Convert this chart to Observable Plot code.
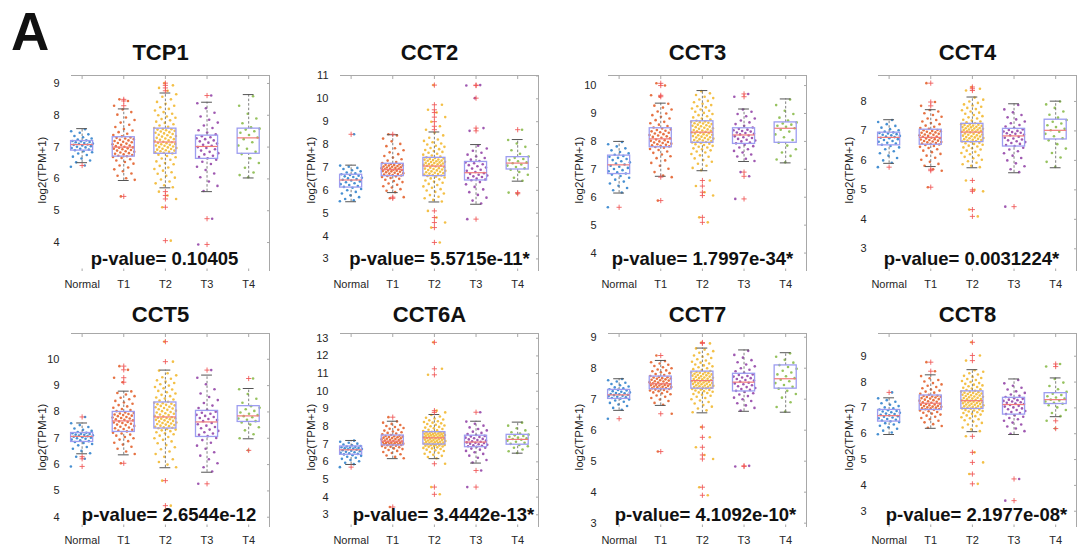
<!DOCTYPE html>
<html>
<head>
<meta charset="utf-8">
<script src="https://cdn.jsdelivr.net/npm/d3@7"></script>
<script src="https://cdn.jsdelivr.net/npm/@observablehq/plot@0.6"></script>
<style>
  html, body { margin: 0; padding: 0; background: #fff; }
  #fig { position: relative; width: 1083px; height: 547px; overflow: hidden; background: #fff;
         font-family: "Liberation Sans", Arial, Helvetica, sans-serif; }
  .panel { position: absolute; }
  .overlay { position: absolute; left: 0; top: 0; pointer-events: none; }
</style>
</head>
<body>
<div id="fig"></div>
<script>
// ---------------- data ----------------
const groups = ["Normal", "T1", "T2", "T3", "T4"];
const genes = ["TCP1", "CCT2", "CCT3", "CCT4", "CCT5", "CCT6A", "CCT7", "CCT8"];
const pValues = ["p-value= 0.10405", "p-value= 5.5715e-11*", "p-value= 1.7997e-34*", "p-value= 0.0031224*",
                 "p-value= 2.6544e-12", "p-value= 3.4442e-13*", "p-value= 4.1092e-10*", "p-value= 2.1977e-08*"];
const yLabel = "log2(TPM+1)";
const panelLetter = "A";

// box statistics per group: [lower whisker, Q1, median, Q3, upper whisker]
const TCP1_box = [[6.51,6.89,7.08,7.19,7.58],[5.95,6.70,7.00,7.31,8.20],[5.72,6.79,7.16,7.58,8.70],[5.60,6.63,7.02,7.36,8.41],[6.03,6.79,7.29,7.58,8.65]];
const CCT2_box = [[5.50,6.12,6.45,6.68,7.10],[5.90,6.62,6.91,7.16,8.43],[5.49,6.62,7.06,7.42,8.55],[5.39,6.43,6.77,7.24,8.00],[6.40,6.91,7.19,7.45,8.22]];
const CCT3_box = [[6.15,6.83,7.16,7.49,8.00],[6.75,7.79,8.09,8.47,9.37],[6.95,7.95,8.33,8.72,9.82],[7.28,7.91,8.23,8.47,9.16],[7.23,7.95,8.47,8.68,9.52]];
const CCT4_box = [[5.90,6.51,6.78,6.94,7.38],[5.79,6.53,6.78,7.04,7.72],[5.75,6.62,6.96,7.24,8.15],[5.58,6.47,6.83,7.07,7.92],[5.75,6.71,7.02,7.38,8.01]];
const CCT5_box = [[6.41,6.86,7.07,7.20,7.58],[6.37,7.24,7.66,8.00,8.79],[5.88,7.37,7.81,8.36,9.59],[5.71,7.05,7.62,8.04,9.40],[6.98,7.62,7.85,8.22,8.89]];
const CCT6A_box = [[5.85,6.40,6.68,6.87,7.21],[6.18,6.93,7.17,7.49,8.30],[6.18,6.98,7.36,7.68,8.68],[5.93,6.83,7.12,7.48,8.30],[6.49,6.97,7.27,7.53,8.25]];
const CCT7_box = [[6.64,7.01,7.14,7.30,7.66],[6.80,7.32,7.50,7.73,8.25],[6.56,7.34,7.60,7.89,8.65],[6.61,7.25,7.55,7.82,8.59],[6.58,7.34,7.66,8.09,8.50]];
const CCT8_box = [[5.97,6.47,6.70,6.92,7.39],[6.21,6.92,7.18,7.48,8.28],[6.08,6.96,7.28,7.64,8.48],[5.97,6.74,7.13,7.39,8.12],[6.66,7.15,7.32,7.57,8.16]];

// outliers per group
const TCP1_out = [[6.42],[8.50,8.45,8.30,5.45],[9.01,8.94,8.86,8.77,5.60,5.48,5.37,5.11,4.06],[8.62,4.75,3.94],[]];
const CCT2_out = [[8.45],[8.45,5.70,5.65],[10.60,9.74,9.52,9.40,9.20,9.00,8.80,8.65,5.10,4.81,4.59,4.37,3.72],[10.60,10.58,10.03,8.72,8.60,4.74],[8.65,5.90,5.85]];
const CCT3_out = [[5.64],[10.08,10.00,9.65,9.60,6.72,5.88],[6.60,6.40,6.18,6.06,5.28,5.10],[9.70,9.60,6.90,6.75,5.94],[]];
const CCT4_out = [[5.77],[8.62,7.98,7.85,5.70,5.65,5.09],[8.49,8.43,8.37,5.32,5.00,4.95,4.33,4.10],[4.43],[]];
const CCT5_out = [[7.81,6.30,6.22,5.93],[9.74,9.60,9.30,9.13,6.05],[10.67,9.91,5.39,4.44],[9.59,5.27],[9.27,6.54]];
const CCT6A_out = [[5.70],[8.53,3.44],[12.77,11.27,10.93,8.90,8.80,5.89,4.57,4.16],[8.81,5.51,4.57],[]];
const CCT7_out = [[6.37],[8.41,6.53,5.31],[8.83,8.80,6.10,5.77,5.45,5.20,5.07,4.16,3.90],[4.83,4.85],[]];
const CCT8_out = [[7.60],[8.77,8.42],[9.54,9.03,8.83,5.90,5.28,4.89,4.44,4.06],[4.25,3.41],[8.70,8.60,6.50,6.20]];

// sample values per group (estimated from the scatter clouds)
const TCP1_pts = [
  [6.38,6.42,6.52,6.58,6.64,6.7,6.75,6.8,6.84,6.87,6.9,6.92,6.95,6.97,6.99,7.01,7.03,7.05,7.07,7.08,7.1,7.11,7.13,7.15,7.16,7.18,7.19,7.21,7.24,7.27,7.31,7.35,7.4,7.45,7.5,7.56],
  [5.45,5.97,6.02,6.1,6.17,6.24,6.3,6.36,6.42,6.48,6.53,6.58,6.62,6.66,6.69,6.71,6.73,6.75,6.77,6.79,6.81,6.83,6.85,6.87,6.89,6.91,6.93,6.95,6.96,6.98,6.99,7.01,7.03,7.05,7.07,7.09,7.11,7.13,7.15,7.17,7.19,7.21,7.23,7.25,7.27,7.29,7.3,7.34,7.38,7.42,7.47,7.52,7.57,7.63,7.7,7.77,7.85,7.93,8.02,8.1,8.18,8.3,8.45,8.5],
  [4.06,5.11,5.37,5.48,5.6,5.74,5.8,5.86,5.92,5.98,6.04,6.1,6.16,6.21,6.26,6.31,6.36,6.41,6.46,6.5,6.55,6.6,6.64,6.68,6.72,6.76,6.8,6.82,6.84,6.85,6.87,6.89,6.9,6.92,6.94,6.95,6.97,6.99,7.0,7.02,7.04,7.05,7.07,7.09,7.1,7.12,7.13,7.15,7.17,7.19,7.21,7.23,7.25,7.27,7.29,7.31,7.33,7.35,7.37,7.39,7.41,7.43,7.45,7.47,7.49,7.51,7.53,7.55,7.56,7.57,7.6,7.64,7.68,7.72,7.76,7.8,7.84,7.88,7.92,7.96,8.0,8.05,8.1,8.15,8.2,8.25,8.3,8.36,8.42,8.5,8.58,8.66,8.77,8.86,8.94,9.01],
  [3.94,4.75,5.62,5.78,5.92,6.05,6.17,6.28,6.38,6.47,6.54,6.6,6.65,6.69,6.73,6.77,6.81,6.85,6.89,6.93,6.97,7.0,7.04,7.07,7.11,7.14,7.18,7.21,7.25,7.28,7.31,7.34,7.4,7.46,7.53,7.6,7.68,7.77,7.86,7.96,8.08,8.22,8.38,8.62],
  [6.05,6.12,6.2,6.35,6.5,6.65,6.78,6.85,6.95,7.05,7.15,7.25,7.3,7.38,7.45,7.5,7.55,7.58,7.62,7.75,7.9,8.05,8.3,8.6]
];
const CCT2_pts = [
  [5.52,5.56,5.62,5.7,5.78,5.86,5.93,6.0,6.06,6.11,6.15,6.19,6.23,6.27,6.31,6.35,6.39,6.43,6.46,6.49,6.52,6.55,6.58,6.61,6.64,6.67,6.7,6.74,6.78,6.83,6.88,6.93,6.98,7.03,7.08,8.45],
  [5.65,5.7,5.92,5.98,6.05,6.12,6.18,6.24,6.3,6.36,6.41,6.46,6.5,6.54,6.58,6.61,6.63,6.65,6.67,6.69,6.71,6.73,6.75,6.77,6.79,6.81,6.83,6.84,6.86,6.87,6.89,6.9,6.92,6.94,6.95,6.97,6.98,7.0,7.01,7.03,7.04,7.06,7.08,7.09,7.11,7.12,7.14,7.15,7.19,7.24,7.3,7.36,7.43,7.5,7.58,7.66,7.75,7.84,7.93,8.03,8.14,8.26,8.4,8.45],
  [3.72,4.37,4.59,4.81,5.1,5.51,5.58,5.65,5.72,5.79,5.86,5.93,5.99,6.05,6.11,6.17,6.23,6.28,6.33,6.38,6.43,6.48,6.52,6.56,6.6,6.63,6.65,6.67,6.69,6.71,6.73,6.75,6.77,6.79,6.81,6.83,6.85,6.87,6.89,6.91,6.93,6.95,6.97,6.99,7.01,7.04,7.07,7.09,7.1,7.12,7.14,7.15,7.17,7.19,7.2,7.22,7.24,7.25,7.27,7.29,7.3,7.32,7.34,7.35,7.37,7.39,7.41,7.44,7.48,7.52,7.56,7.6,7.64,7.68,7.72,7.76,7.8,7.85,7.9,7.95,8.0,8.05,8.1,8.16,8.22,8.3,8.4,8.52,8.65,8.8,9.0,9.2,9.4,9.52,9.74,10.6],
  [4.74,5.42,5.55,5.68,5.8,5.92,6.04,6.15,6.26,6.36,6.44,6.47,6.51,6.54,6.58,6.61,6.65,6.68,6.72,6.75,6.8,6.85,6.9,6.95,7.0,7.05,7.1,7.14,7.18,7.22,7.28,7.34,7.41,7.48,7.56,7.64,7.73,7.83,7.95,8.6,8.72,10.03,10.58,10.6],
  [5.85,5.9,6.42,6.55,6.68,6.8,6.9,6.96,7.02,7.08,7.13,7.18,7.22,7.27,7.32,7.37,7.42,7.48,7.6,7.75,7.9,8.05,8.2,8.65]
];
const CCT3_pts = [
  [5.64,6.17,6.25,6.33,6.41,6.49,6.56,6.63,6.7,6.76,6.81,6.85,6.89,6.93,6.97,7.01,7.05,7.09,7.13,7.17,7.21,7.25,7.29,7.33,7.37,7.41,7.45,7.48,7.52,7.57,7.62,7.68,7.75,7.82,7.9,7.98],
  [5.88,6.72,6.78,6.9,7.02,7.13,7.23,7.32,7.4,7.47,7.53,7.59,7.64,7.69,7.73,7.77,7.8,7.82,7.84,7.86,7.88,7.9,7.92,7.94,7.96,7.98,8.0,8.02,8.04,8.07,8.11,8.13,8.16,8.18,8.21,8.23,8.26,8.28,8.31,8.33,8.36,8.38,8.41,8.43,8.46,8.5,8.55,8.6,8.65,8.7,8.76,8.82,8.88,8.94,9.0,9.07,9.14,9.21,9.28,9.35,9.6,9.65,10.0,10.08],
  [5.1,5.28,6.06,6.18,6.4,6.6,6.97,7.05,7.13,7.2,7.27,7.33,7.39,7.45,7.5,7.55,7.6,7.64,7.68,7.72,7.75,7.78,7.81,7.84,7.87,7.9,7.92,7.94,7.96,7.98,8.0,8.01,8.03,8.05,8.07,8.08,8.1,8.12,8.14,8.15,8.17,8.19,8.21,8.22,8.24,8.26,8.28,8.29,8.31,8.32,8.34,8.36,8.38,8.39,8.41,8.43,8.45,8.47,8.49,8.51,8.53,8.54,8.56,8.58,8.6,8.62,8.64,8.65,8.67,8.69,8.7,8.71,8.74,8.78,8.82,8.86,8.9,8.94,8.98,9.02,9.06,9.1,9.14,9.18,9.22,9.26,9.3,9.35,9.4,9.45,9.5,9.55,9.6,9.66,9.72,9.8],
  [5.94,6.75,6.9,7.3,7.38,7.46,7.53,7.6,7.66,7.72,7.78,7.83,7.88,7.93,7.96,8.0,8.03,8.06,8.09,8.12,8.15,8.18,8.21,8.25,8.27,8.3,8.32,8.35,8.37,8.4,8.42,8.45,8.5,8.56,8.62,8.68,8.75,8.82,8.9,8.98,9.06,9.14,9.6,9.7],
  [7.25,7.35,7.48,7.6,7.72,7.85,7.95,8.05,8.15,8.25,8.35,8.42,8.47,8.52,8.56,8.6,8.64,8.68,8.75,8.85,8.98,9.1,9.3,9.5]
];
const CCT4_pts = [
  [5.77,5.92,6.0,6.08,6.16,6.24,6.31,6.38,6.44,6.49,6.53,6.57,6.6,6.63,6.66,6.69,6.72,6.75,6.77,6.79,6.81,6.83,6.85,6.87,6.89,6.91,6.93,6.95,6.98,7.02,7.06,7.11,7.17,7.23,7.3,7.37],
  [5.09,5.65,5.7,5.82,5.88,5.95,6.02,6.09,6.16,6.22,6.28,6.33,6.38,6.42,6.46,6.49,6.52,6.54,6.56,6.57,6.59,6.61,6.62,6.64,6.66,6.67,6.69,6.71,6.72,6.74,6.75,6.77,6.8,6.81,6.83,6.85,6.87,6.88,6.9,6.92,6.94,6.95,6.97,6.99,7.0,7.02,7.03,7.07,7.1,7.14,7.18,7.23,7.27,7.32,7.37,7.42,7.48,7.54,7.6,7.66,7.71,7.85,7.98,8.62],
  [4.1,4.33,4.95,5.0,5.32,5.77,5.82,5.87,5.92,5.97,6.02,6.07,6.12,6.17,6.21,6.25,6.29,6.33,6.37,6.41,6.44,6.47,6.5,6.53,6.56,6.58,6.6,6.63,6.64,6.66,6.67,6.69,6.7,6.72,6.73,6.75,6.76,6.78,6.79,6.81,6.82,6.84,6.85,6.87,6.88,6.9,6.91,6.93,6.95,6.97,6.98,6.99,7.0,7.02,7.03,7.04,7.05,7.07,7.08,7.09,7.1,7.12,7.13,7.14,7.16,7.17,7.18,7.2,7.21,7.22,7.23,7.26,7.29,7.32,7.35,7.38,7.42,7.46,7.5,7.54,7.58,7.62,7.66,7.7,7.74,7.78,7.82,7.86,7.9,7.95,8.0,8.06,8.13,8.37,8.43,8.49],
  [4.43,5.6,5.7,5.8,5.9,6.0,6.08,6.16,6.24,6.31,6.37,6.43,6.49,6.52,6.56,6.59,6.62,6.65,6.68,6.71,6.74,6.77,6.8,6.85,6.87,6.9,6.92,6.94,6.96,6.98,7.0,7.03,7.05,7.1,7.15,7.2,7.26,7.32,7.39,7.46,7.54,7.63,7.73,7.88],
  [5.78,5.95,6.1,6.25,6.4,6.55,6.68,6.75,6.82,6.9,6.97,7.02,7.07,7.13,7.19,7.25,7.31,7.37,7.45,7.55,7.66,7.78,7.9,8.0]
];
const CCT5_pts = [
  [5.93,6.22,6.3,6.43,6.52,6.6,6.67,6.73,6.78,6.82,6.86,6.89,6.92,6.95,6.98,7.0,7.02,7.04,7.06,7.08,7.1,7.11,7.13,7.14,7.16,7.17,7.19,7.21,7.24,7.28,7.32,7.37,7.43,7.5,7.57,7.81],
  [6.05,6.4,6.5,6.6,6.68,6.76,6.83,6.89,6.95,7.0,7.05,7.1,7.14,7.18,7.21,7.26,7.29,7.32,7.35,7.38,7.41,7.44,7.47,7.5,7.52,7.55,7.58,7.6,7.62,7.64,7.68,7.7,7.72,7.75,7.77,7.79,7.81,7.84,7.86,7.88,7.9,7.92,7.94,7.96,7.98,8.03,8.07,8.11,8.16,8.21,8.26,8.31,8.36,8.42,8.48,8.54,8.6,8.66,8.72,8.78,9.13,9.3,9.6,9.74],
  [4.44,5.39,5.9,6.0,6.1,6.2,6.3,6.4,6.5,6.58,6.66,6.74,6.81,6.88,6.94,7.0,7.05,7.1,7.15,7.19,7.23,7.27,7.3,7.33,7.35,7.38,7.4,7.42,7.44,7.46,7.48,7.5,7.52,7.54,7.56,7.58,7.6,7.62,7.64,7.66,7.68,7.7,7.72,7.74,7.76,7.77,7.78,7.8,7.83,7.85,7.88,7.9,7.93,7.95,7.98,8.0,8.03,8.05,8.08,8.1,8.13,8.15,8.18,8.2,8.23,8.25,8.27,8.29,8.31,8.33,8.35,8.39,8.43,8.47,8.51,8.55,8.6,8.65,8.7,8.75,8.8,8.85,8.9,8.95,9.0,9.05,9.1,9.15,9.2,9.26,9.32,9.39,9.47,9.57,9.91,10.67],
  [5.27,5.74,5.9,6.05,6.2,6.34,6.47,6.6,6.72,6.83,6.93,7.01,7.08,7.13,7.18,7.23,7.28,7.33,7.38,7.43,7.48,7.53,7.58,7.65,7.69,7.73,7.77,7.81,7.85,7.89,7.93,7.97,8.01,8.08,8.15,8.24,8.34,8.45,8.57,8.7,8.86,9.05,9.3,9.59],
  [6.54,7.0,7.15,7.3,7.42,7.52,7.6,7.65,7.7,7.75,7.8,7.84,7.88,7.93,7.98,8.04,8.1,8.16,8.22,8.35,8.5,8.68,8.86,9.27]
];
const CCT6A_pts = [
  [5.7,5.87,5.95,6.03,6.1,6.17,6.23,6.29,6.34,6.38,6.42,6.45,6.48,6.51,6.54,6.57,6.6,6.63,6.66,6.69,6.71,6.73,6.75,6.77,6.79,6.81,6.83,6.85,6.87,6.9,6.94,6.98,7.03,7.08,7.14,7.2],
  [3.44,6.2,6.28,6.36,6.43,6.5,6.56,6.62,6.67,6.72,6.76,6.8,6.83,6.86,6.89,6.91,6.94,6.96,6.97,6.99,7.0,7.02,7.03,7.05,7.06,7.08,7.09,7.11,7.12,7.14,7.15,7.19,7.21,7.23,7.25,7.27,7.29,7.31,7.33,7.35,7.37,7.39,7.41,7.43,7.45,7.46,7.48,7.52,7.56,7.6,7.64,7.68,7.72,7.77,7.82,7.87,7.92,7.97,8.03,8.09,8.15,8.22,8.29,8.53],
  [4.16,4.57,5.89,6.2,6.27,6.34,6.4,6.46,6.51,6.56,6.61,6.65,6.69,6.73,6.76,6.79,6.82,6.85,6.87,6.89,6.91,6.93,6.94,6.96,6.97,6.99,7.01,7.02,7.04,7.06,7.08,7.09,7.11,7.13,7.14,7.16,7.18,7.19,7.21,7.23,7.24,7.26,7.28,7.3,7.31,7.33,7.35,7.37,7.38,7.4,7.41,7.43,7.44,7.46,7.47,7.49,7.5,7.52,7.53,7.55,7.56,7.58,7.59,7.61,7.62,7.64,7.65,7.66,7.67,7.7,7.74,7.78,7.82,7.86,7.9,7.94,7.98,8.02,8.06,8.1,8.14,8.18,8.22,8.26,8.3,8.35,8.4,8.45,8.5,8.57,8.65,8.8,8.9,10.93,11.27,12.77],
  [4.57,5.51,5.96,6.1,6.23,6.35,6.45,6.54,6.62,6.69,6.75,6.8,6.85,6.88,6.91,6.94,6.97,7.0,7.03,7.06,7.08,7.1,7.14,7.17,7.2,7.23,7.27,7.3,7.34,7.37,7.41,7.44,7.47,7.52,7.58,7.64,7.71,7.78,7.86,7.95,8.05,8.16,8.28,8.81],
  [6.5,6.6,6.7,6.8,6.88,6.95,7.02,7.08,7.14,7.2,7.25,7.29,7.33,7.37,7.42,7.46,7.5,7.54,7.6,7.68,7.78,7.9,8.05,8.22]
];
const CCT7_pts = [
  [6.37,6.66,6.72,6.78,6.83,6.88,6.92,6.96,6.99,7.02,7.04,7.06,7.08,7.1,7.11,7.13,7.14,7.16,7.17,7.19,7.2,7.22,7.24,7.26,7.28,7.3,7.32,7.35,7.38,7.41,7.45,7.49,7.53,7.57,7.61,7.65],
  [5.31,6.53,6.82,6.88,6.94,6.99,7.04,7.08,7.12,7.16,7.19,7.22,7.24,7.26,7.28,7.3,7.31,7.33,7.34,7.35,7.36,7.38,7.39,7.4,7.41,7.43,7.44,7.45,7.46,7.47,7.48,7.49,7.51,7.52,7.54,7.55,7.57,7.58,7.6,7.61,7.63,7.64,7.66,7.67,7.68,7.7,7.71,7.72,7.75,7.78,7.81,7.84,7.87,7.9,7.93,7.96,8.0,8.03,8.07,8.11,8.15,8.19,8.23,8.41],
  [3.9,4.16,5.07,5.2,5.45,5.77,6.1,6.58,6.64,6.7,6.76,6.81,6.86,6.91,6.96,7.0,7.04,7.08,7.11,7.14,7.17,7.2,7.22,7.24,7.26,7.28,7.3,7.31,7.33,7.35,7.36,7.37,7.38,7.39,7.4,7.42,7.43,7.44,7.45,7.46,7.48,7.49,7.5,7.51,7.52,7.54,7.55,7.56,7.57,7.58,7.59,7.61,7.62,7.64,7.65,7.66,7.68,7.69,7.7,7.72,7.73,7.74,7.76,7.77,7.78,7.8,7.81,7.82,7.84,7.85,7.86,7.87,7.88,7.91,7.94,7.97,8.0,8.03,8.06,8.09,8.12,8.15,8.18,8.21,8.25,8.29,8.33,8.37,8.41,8.45,8.5,8.55,8.6,8.64,8.8,8.83],
  [4.83,4.85,6.63,6.72,6.8,6.87,6.94,7.0,7.05,7.1,7.15,7.19,7.23,7.27,7.3,7.33,7.36,7.39,7.42,7.45,7.48,7.51,7.53,7.57,7.6,7.62,7.65,7.68,7.7,7.73,7.75,7.78,7.8,7.85,7.9,7.95,8.0,8.06,8.12,8.19,8.26,8.34,8.43,8.56],
  [6.6,6.75,6.9,7.05,7.17,7.27,7.34,7.4,7.46,7.52,7.58,7.63,7.68,7.74,7.8,7.86,7.92,7.98,8.04,8.1,8.18,8.27,8.37,8.48]
];
const CCT8_pts = [
  [5.98,6.05,6.12,6.19,6.25,6.31,6.36,6.41,6.45,6.48,6.51,6.54,6.57,6.6,6.63,6.66,6.68,6.71,6.73,6.76,6.78,6.81,6.83,6.86,6.88,6.91,6.94,6.98,7.02,7.07,7.12,7.18,7.24,7.3,7.37,7.6],
  [6.23,6.3,6.37,6.44,6.5,6.56,6.61,6.66,6.7,6.74,6.78,6.81,6.84,6.87,6.9,6.93,6.95,6.96,6.98,6.99,7.01,7.02,7.04,7.05,7.07,7.08,7.1,7.12,7.13,7.15,7.16,7.2,7.22,7.24,7.26,7.28,7.3,7.32,7.34,7.36,7.38,7.4,7.42,7.43,7.44,7.46,7.47,7.51,7.55,7.59,7.63,7.67,7.71,7.76,7.81,7.86,7.91,7.96,8.02,8.08,8.15,8.23,8.42,8.77],
  [4.06,4.44,4.89,5.28,5.9,6.1,6.17,6.24,6.3,6.36,6.42,6.47,6.52,6.56,6.6,6.64,6.68,6.71,6.74,6.77,6.8,6.83,6.86,6.88,6.9,6.92,6.94,6.97,6.98,7.0,7.01,7.03,7.04,7.06,7.07,7.09,7.1,7.12,7.13,7.15,7.16,7.18,7.19,7.21,7.22,7.24,7.25,7.26,7.27,7.29,7.31,7.33,7.34,7.36,7.38,7.39,7.41,7.43,7.44,7.46,7.48,7.49,7.51,7.53,7.54,7.56,7.58,7.59,7.61,7.62,7.63,7.66,7.69,7.72,7.75,7.78,7.81,7.84,7.87,7.9,7.93,7.96,8.0,8.04,8.08,8.12,8.16,8.2,8.24,8.29,8.34,8.4,8.46,8.83,9.03,9.54],
  [3.41,4.25,6.0,6.1,6.2,6.28,6.36,6.43,6.5,6.56,6.61,6.66,6.71,6.76,6.8,6.84,6.88,6.92,6.95,6.98,7.02,7.05,7.08,7.11,7.15,7.17,7.2,7.22,7.25,7.27,7.3,7.32,7.35,7.37,7.42,7.47,7.52,7.58,7.64,7.71,7.78,7.86,7.95,8.08],
  [6.2,6.5,6.68,6.8,6.92,7.02,7.1,7.16,7.2,7.25,7.29,7.32,7.36,7.4,7.45,7.5,7.55,7.62,7.72,7.85,7.98,8.12,8.6,8.7]
];

const allBoxes = [TCP1_box, CCT2_box, CCT3_box, CCT4_box, CCT5_box, CCT6A_box, CCT7_box, CCT8_box];
const allOut = [TCP1_out, CCT2_out, CCT3_out, CCT4_out, CCT5_out, CCT6A_out, CCT7_out, CCT8_out];
const allPts = [TCP1_pts, CCT2_pts, CCT3_pts, CCT4_pts, CCT5_pts, CCT6A_pts, CCT7_pts, CCT8_pts];

// ---------------- layout / style ----------------
const axisLimits = [[3.09,9.25],[2.45,11.02],[3.34,10.36],[2.23,8.88],[3.61,10.98],[2.28,13.27],[2.86,9.12],[2.37,9.88]];
const xLimits = [0.745, 5.5];
const colLeft = [71, 340, 608, 878];
const rowTop = [75, 333];
const rowH = [196, 194];
const titleBase = [60, 321.7];
const yLabelCenter = [170, 437];
const AW = 198;
const mL = 46, mR = 8, mT = 4, mB = 24;
const pDx = [-6, 0, -5, -6, -1.5, 4, -2, -1];
const groupColors = ["#1f78c8", "#e0531a", "#f0b21e", "#8a35a0", "#7fb43a"];
const FONT = '"Liberation Sans", Arial, Helvetica, sans-serif';
const AXIS_GRAY = "#a8a8a8";

const plusSymbol = {
  draw(ctx, size) {
    const r = Math.sqrt(size / Math.PI);
    ctx.moveTo(-r, 0); ctx.lineTo(r, 0);
    ctx.moveTo(0, -r); ctx.lineTo(0, r);
  }
};

const fig = document.getElementById("fig");

genes.forEach((gene, k) => {
  const col = k % 4, row = Math.floor(k / 4);
  const AH = rowH[row];
  const [lo, hi] = axisLimits[k];
  const yt = d3.range(Math.ceil(lo), Math.floor(hi) + 1);
  const boxRows = allBoxes[k].map((b, i) => ({pos: i + 1, wlo: b[0], q1: b[1], med: b[2], q3: b[3], whi: b[4]}));
  const outRows = allOut[k].flatMap((arr, i) => arr.map(v => ({pos: i + 1, v})));
  const dotMarks = allPts[k].map((arr, i) => {
    const rows = arr.map((v, j) => ({pos: i + 1, j, v}));
    return Plot.dot(rows, {
      x: d => d.pos + ((((d.j * 0.6180339887) + 0.37 * i) % 1) - 0.5) * 0.54,
      y: "v", r: 1.3, fill: groupColors[i], fillOpacity: 0.82, stroke: "none"
    });
  });
  const hw = 0.265, cw = 0.13;
  const svg = Plot.plot({
    width: mL + AW + mR, height: mT + AH + mB,
    marginLeft: mL, marginRight: mR, marginTop: mT, marginBottom: mB,
    style: {fontFamily: FONT, fontSize: "11px", color: "#262626", background: "transparent", overflow: "visible"},
    x: {domain: xLimits, label: null},
    y: {domain: [lo, hi], label: null},
    marks: [
      // box outline of the axes: top and right edges only, as in the source figure
      Plot.ruleY([hi], {stroke: AXIS_GRAY, strokeWidth: 1}),
      Plot.ruleX([xLimits[1]], {stroke: AXIS_GRAY, strokeWidth: 1}),
      Plot.axisY(yt, {anchor: "left", label: null, tickSize: 0, tickPadding: 12, tickFormat: d => d}),
      Plot.axisY(yt, {anchor: "right", label: null, tickSize: -3, tickFormat: () => "", stroke: AXIS_GRAY}),
      Plot.axisX([1,2,3,4,5], {anchor: "bottom", label: null, tickSize: -2.5, tickPadding: 11.5, stroke: AXIS_GRAY, tickFormat: d => groups[d - 1]}),
      Plot.axisX([1,2,3,4,5], {anchor: "top", label: null, tickSize: -3, tickFormat: () => "", stroke: AXIS_GRAY}),
      ...dotMarks,
      Plot.ruleX(boxRows, {x: "pos", y1: "q3", y2: "whi", stroke: "#707070", strokeDasharray: "2.5,2", strokeWidth: 0.9}),
      Plot.ruleX(boxRows, {x: "pos", y1: "wlo", y2: "q1", stroke: "#707070", strokeDasharray: "2.5,2", strokeWidth: 0.9}),
      Plot.ruleY(boxRows, {y: "whi", x1: d => d.pos - cw, x2: d => d.pos + cw, stroke: "#555", strokeWidth: 1}),
      Plot.ruleY(boxRows, {y: "wlo", x1: d => d.pos - cw, x2: d => d.pos + cw, stroke: "#555", strokeWidth: 1}),
      Plot.rect(boxRows, {x1: d => d.pos - hw, x2: d => d.pos + hw, y1: "q1", y2: "q3", fill: "none", stroke: "#9d9df0", strokeWidth: 1.3}),
      Plot.ruleY(boxRows, {y: "med", x1: d => d.pos - hw, x2: d => d.pos + hw, stroke: "#f07a7a", strokeWidth: 1.2}),
      Plot.dot(outRows, {x: "pos", y: "v", symbol: plusSymbol, r: 2.6, stroke: "#f05555", strokeWidth: 1, fill: "none", strokeOpacity: 0.85}),
      Plot.text([pValues[k]], {frameAnchor: "bottom", dx: pDx[k], dy: -7, lineAnchor: "bottom", text: d => d, fontSize: 18.5, fontWeight: "bold", fill: "#111"})
    ]
  });
  svg.classList.add("panel");
  svg.style.left = (colLeft[col] - mL) + "px";
  svg.style.top = (rowTop[row] - mT) + "px";
  fig.appendChild(svg);
});

// titles, y-axis labels and panel letter
const ov = d3.select(fig).append("svg").attr("class", "overlay").attr("width", 1083).attr("height", 547)
  .style("font-family", FONT);
ov.append("text").attr("x", 11).attr("y", 50).attr("font-size", 53).attr("font-weight", "bold").attr("fill", "#111").text(panelLetter);
genes.forEach((gene, k) => {
  const col = k % 4, row = Math.floor(k / 4);
  ov.append("text").attr("x", colLeft[col] + AW / 2 - 9.5).attr("y", titleBase[row])
    .attr("text-anchor", "middle").attr("font-size", 22).attr("font-weight", "bold").attr("fill", "#111").text(gene);
  ov.append("text")
    .attr("transform", `translate(${colLeft[col] - 25.5},${yLabelCenter[row]}) rotate(-90)`)
    .attr("text-anchor", "middle").attr("font-size", 11.5).attr("fill", "#262626").text(yLabel);
});
</script>
</body>
</html>
